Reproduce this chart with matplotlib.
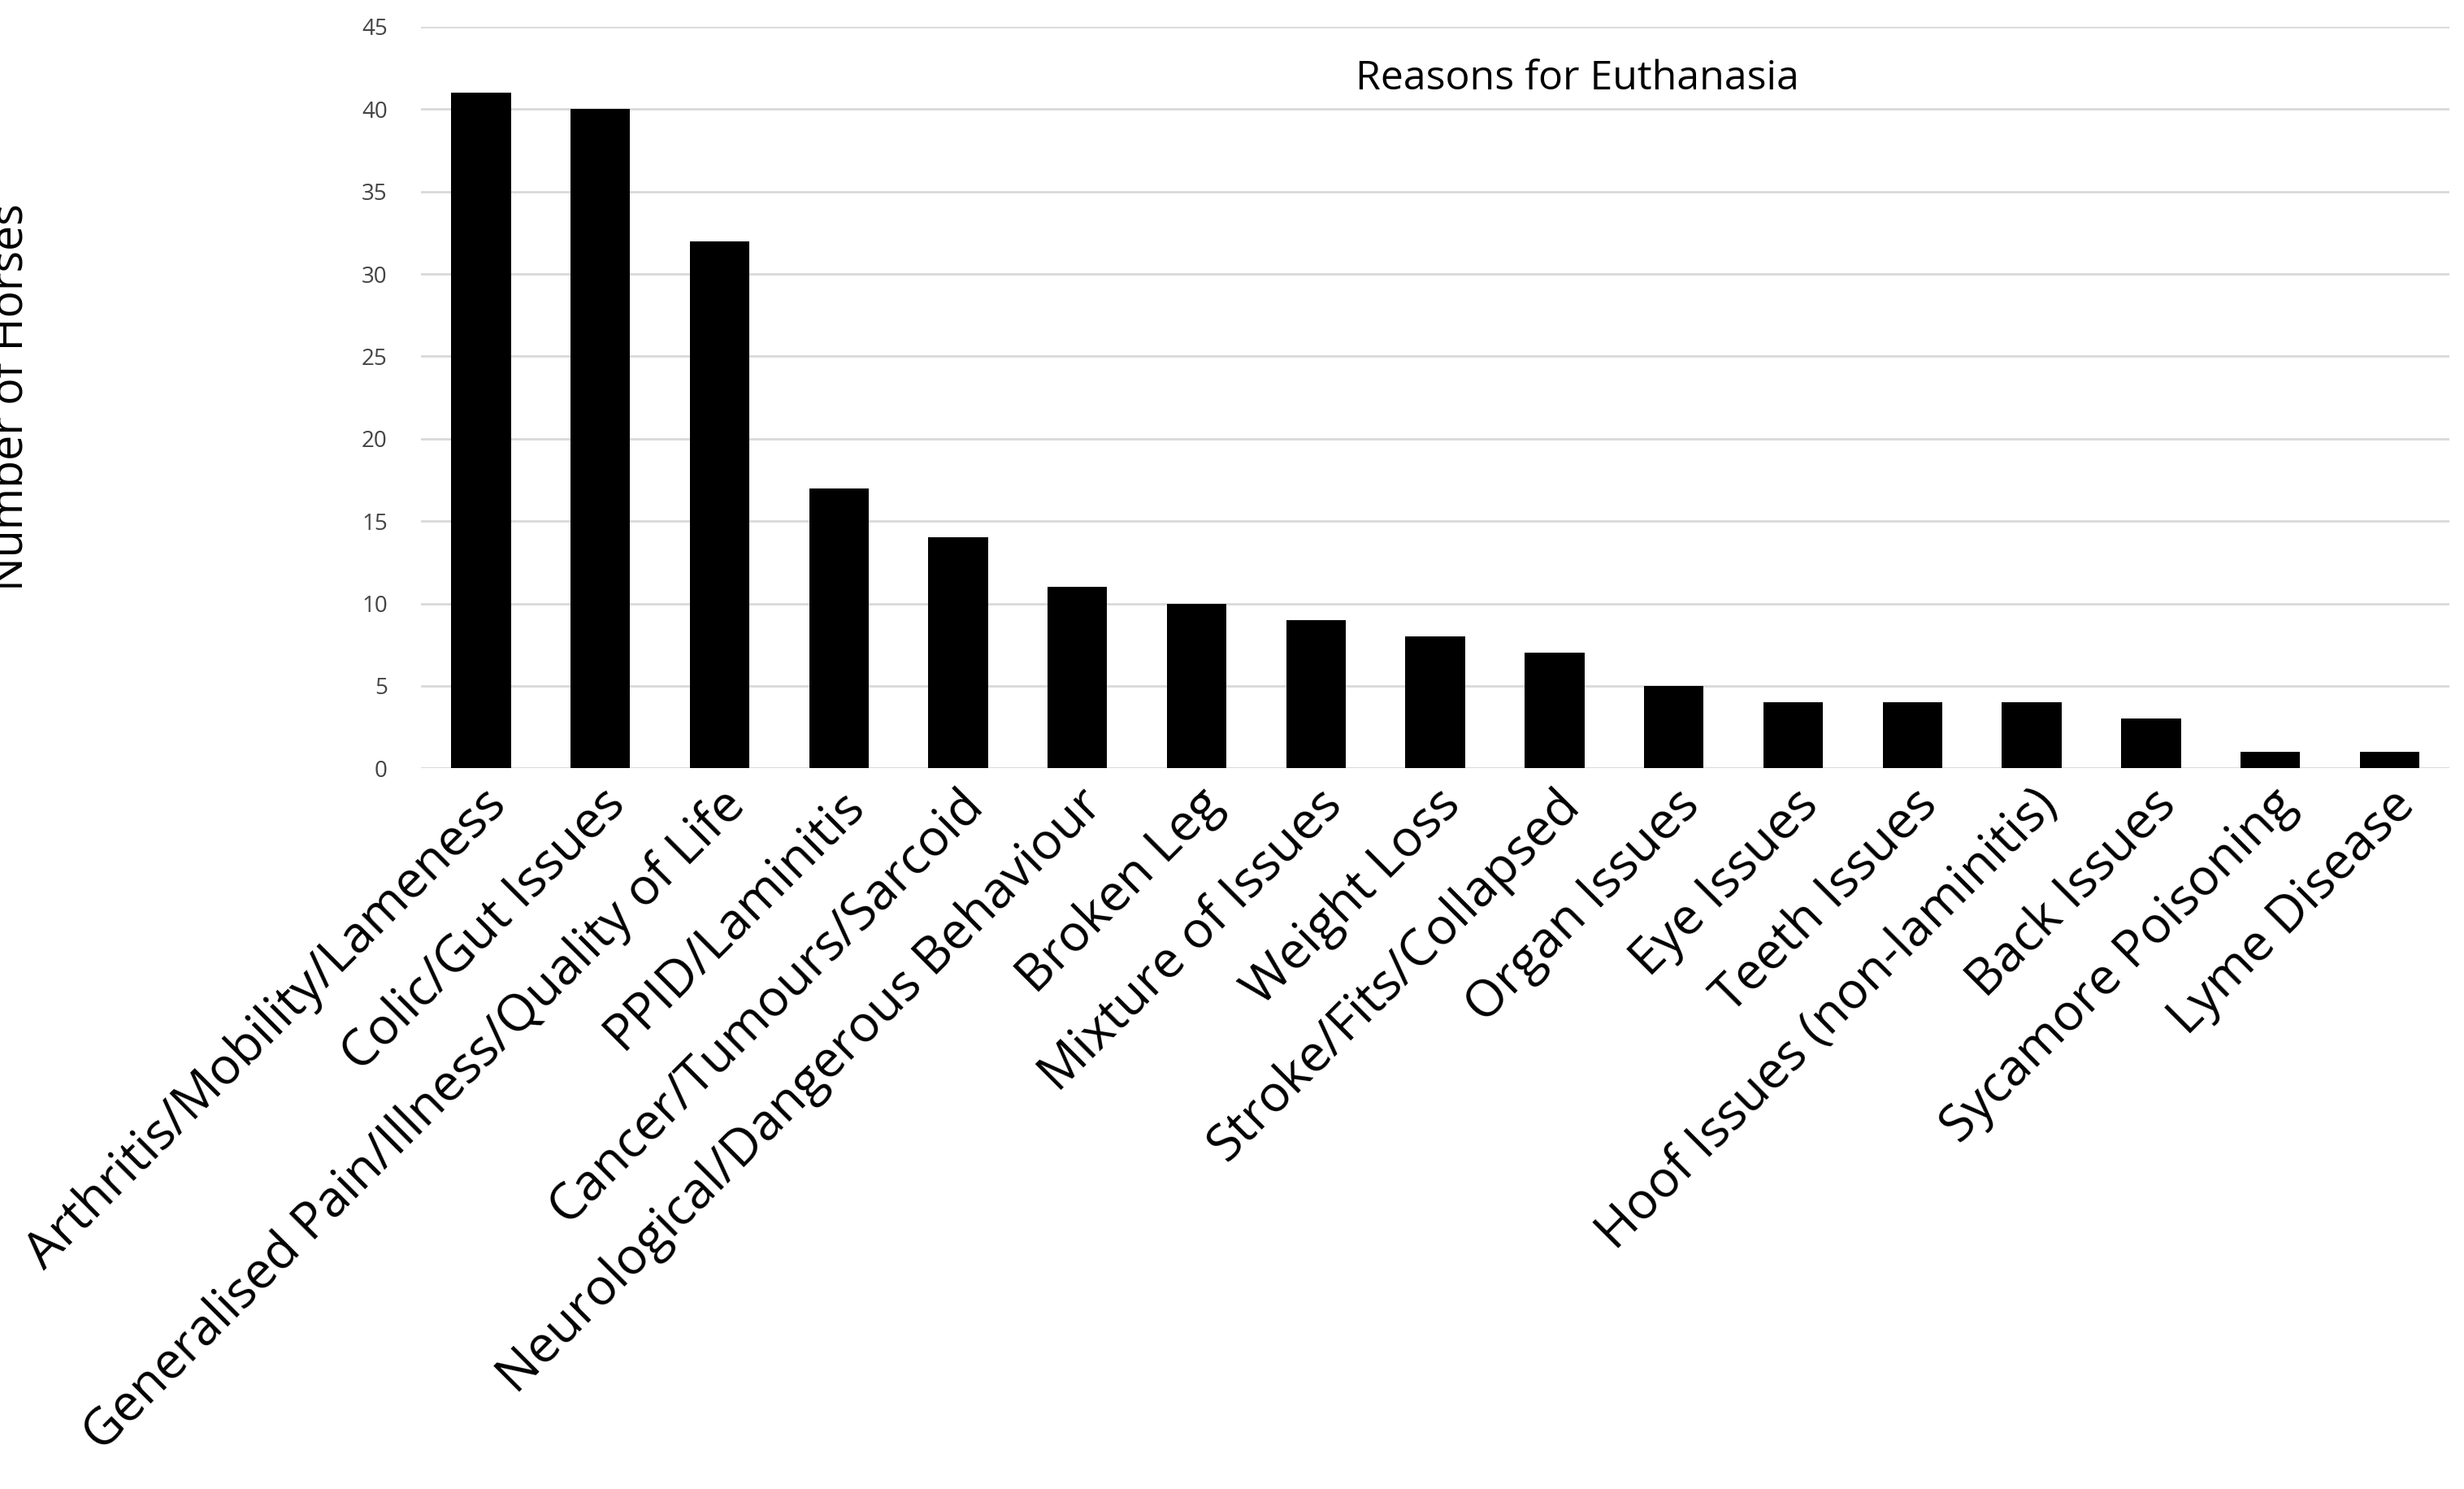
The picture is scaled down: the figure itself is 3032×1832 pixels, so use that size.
import matplotlib
matplotlib.use("Agg")
import matplotlib.pyplot as plt

categories = ["Arthritis/Mobility/Lameness", "Colic/Gut Issues", "Generalised Pain/Illness/Quality of Life",
              "PPID/Laminitis", "Cancer/Tumours/Sarcoid", "Neurological/Dangerous Behaviour", "Broken Leg",
              "Mixture of Issues", "Weight Loss", "Stroke/Fits/Collapsed", "Organ Issues", "Eye Issues",
              "Teeth Issues", "Hoof Issues (non-laminitis)", "Back Issues", "Sycamore Poisoning", "Lyme Disease"]
values = [41, 40, 32, 17, 14, 11, 10, 9, 8, 7, 5, 4, 4, 4, 3, 1, 1]
yticks = [0, 5, 10, 15, 20, 25, 30, 35, 40, 45]

plt.rcParams['font.family'] = ['Open Sans', 'DejaVu Sans']
fig = plt.figure(figsize=(30.32, 18.32), dpi=100)
ax = fig.add_axes([0.171, 0.484, 0.823, 0.498])
x = range(len(categories))
ax.bar(x, values, width=0.5, color='black', zorder=3)
ax.set_xlim(-0.5, len(categories) - 0.5)
ax.set_ylim(0, 45)
ax.set_yticks(yticks)
ax.tick_params(axis='y', labelsize=20, length=0, pad=30, colors='#444444')
ax.tick_params(axis='x', length=0, pad=10)
ax.set_xticks(list(x))
ax.set_xticklabels(categories, rotation=45, ha='right', rotation_mode='anchor', fontsize=45)
ax.yaxis.grid(True, color='#d9d9d9', linewidth=2, zorder=0)
for s in ax.spines.values():
    s.set_visible(False)
ax.axhline(0, color='#d9d9d9', linewidth=2, zorder=1)
ax.set_ylabel("Number of Horses", fontsize=40, labelpad=290)
ax.text(0.57, 0.93, "Reasons for Euthanasia", transform=ax.transAxes, ha='center', va='center', fontsize=36)
fig.savefig("out.png", dpi=100)
